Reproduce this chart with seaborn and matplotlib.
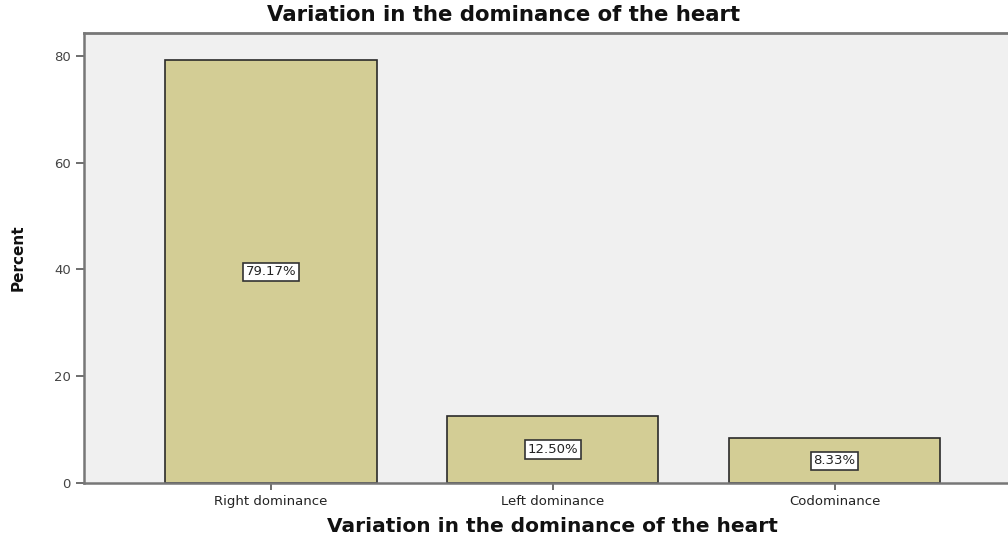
import pandas as pd
import matplotlib
matplotlib.use('Agg')
import matplotlib.pyplot as plt
import seaborn as sns

categories = ['Right dominance', 'Left dominance', 'Codominance']
percent = [79.17, 12.50, 8.33]
labels = ['79.17%', '12.50%', '8.33%']

df = pd.DataFrame({'dominance': categories, 'percent': percent})

sns.set_style('ticks')
plt.rcParams['font.family'] = ['DejaVu Sans']

fig = plt.figure(figsize=(10.08, 5.36), dpi=100)
ax = fig.add_axes([0.0833, 0.099, 0.93, 0.8394])
ax.set_facecolor('#F0F0F0')

sns.barplot(data=df, x='dominance', y='percent', color='#D3CD95', saturation=1,
            width=0.75, edgecolor='#2a2a2a', linewidth=1.2, ax=ax)

for i, (v, lab) in enumerate(zip(percent, labels)):
    ax.text(i, v / 2, lab, ha='center', va='center', fontsize=9.5, color='#222222',
            bbox=dict(boxstyle='square,pad=0.2', facecolor='white', edgecolor='#333333', linewidth=1.2))

ax.set_ylim(0, 84.3)
ax.set_xlim(-0.663, 2.663)
ax.set_yticks([0, 20, 40, 60, 80])
ax.tick_params(axis='both', direction='out', length=6, width=1.2, colors='#555555',
               labelcolor='#444444', labelsize=9.5)
ax.tick_params(axis='x', length=5, pad=4, labelcolor='#222222')

for s in ['left', 'top', 'bottom']:
    ax.spines[s].set_color('#777777')
    ax.spines[s].set_linewidth(1.8)
ax.spines['top'].set_linewidth(2)
ax.spines['right'].set_visible(False)

ax.set_xlabel('Variation in the dominance of the heart', fontsize=14.5, fontweight='bold', labelpad=6,
              color='#111111')
ax.set_ylabel('Percent', fontsize=11, fontweight='bold', labelpad=20, color='#111111')
fig.text(0.5, 0.972, 'Variation in the dominance of the heart', ha='center', va='center',
         fontsize=15.3, fontweight='bold', color='#111111')

fig.savefig('out.png', dpi=100)
